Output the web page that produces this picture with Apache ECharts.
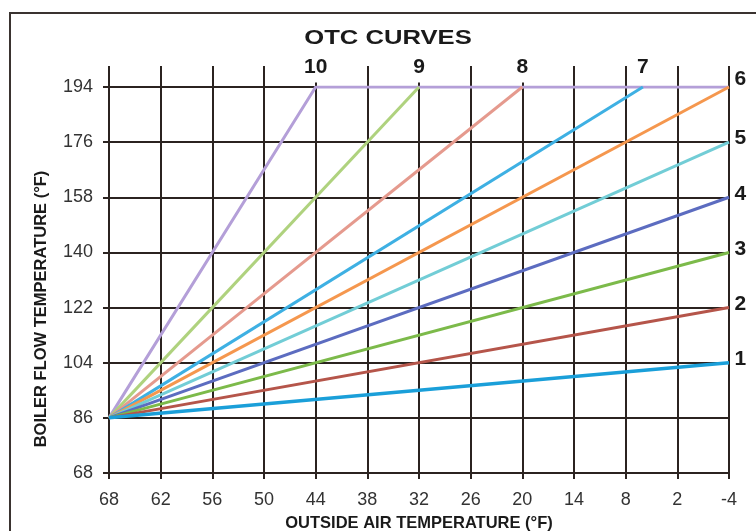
<!DOCTYPE html>
<html><head><meta charset="utf-8">
<script src="https://cdn.jsdelivr.net/npm/echarts@6/dist/echarts.min.js"></script>
<style>html,body{margin:0;padding:0;background:#fff}#c{width:756px;height:531px}</style>
</head><body><div id="c"></div>
<script>
// Data
const curveNames = ['1','2','3','4','5','6','7','8','9','10'];
const startX = 68, startY = 86;
const capX = [-4, -4, -4, -4, -4, -4, 6, 20, 32, 44];
const capY = [104, 122, 140, 158, 176, 194, 194, 194, 194, 194];
const flatToX = [null, null, null, null, null, null, null, null, null, -4];
const xTicks = [68, 62, 56, 50, 44, 38, 32, 26, 20, 14, 8, 2, -4];
const yTicks = [68, 86, 104, 122, 140, 158, 176, 194];
const colors = ['#1a9fd9','#b5554a','#7cba4a','#5c6cc0','#72cdd6','#f5974e','#3eb0e3','#e59a8e','#afd27e','#b49fd8'];

const FONT = 'Liberation Sans, Arial, sans-serif';
const DARK = '#2b2320';
const chart = echarts.init(document.getElementById('c'), null, {renderer:'canvas'});

const series = curveNames.map((n, i) => {
  const onTop = capY[i] === 194 && capX[i] !== -4;
  const pts = [[startX, startY], {
    value: [capX[i], capY[i]],
    label: onTop ? {show:true, formatter:n, position:'top', distance:4,
                    backgroundColor:'#fff', padding:[0,2,5,2]}
                 : {show:true, formatter:n, position:[6, capY[i] === 194 ? -7 : -3],
                    align:'left', verticalAlign:'middle'}
  }];
  if (flatToX[i] !== null) pts.push([flatToX[i], capY[i]]);
  return {
    type:'line', name:n, data:pts, symbol:'circle', symbolSize:1, showSymbol:true,
    itemStyle:{color:'rgba(0,0,0,0)', borderWidth:0},
    xAxisIndex:0, yAxisIndex:0,
    lineStyle:{color:colors[i], width: i===0?3.5:3},
    label:{show:false, fontFamily:FONT, fontWeight:'bold', fontSize:21, color:'#1a1a1a'},
    labelLayout:{hideOverlap:false},
    z: 12 - i,
    silent:true, animation:false
  };
});

chart.setOption({
  animation:false,
  graphic:[
    {type:'rect', shape:{x:10, y:13, width:800, height:600},
     style:{fill:'none', stroke:'#3a3330', lineWidth:2}, silent:true},
    {type:'text', x:388, y:38, scaleX:1.22, silent:true,
     style:{text:'OTC CURVES', fontFamily:FONT, fontWeight:'bold', fontSize:21,
            fill:'#1a1a1a', align:'center', verticalAlign:'middle'}},
    {type:'text', x:41, y:309, rotation:Math.PI/2, silent:true,
     style:{text:'BOILER FLOW TEMPERATURE (°F)', fontFamily:FONT, fontWeight:'bold', fontSize:16.5,
            fill:'#1a1a1a', align:'center', verticalAlign:'middle'}}
  ],
  grid:[{left:109, right:27, top:87, bottom:58, containLabel:false, outerBoundsMode:'none'}],
  xAxis:[{
    type:'value', gridIndex:0, min:-4, max:68, interval:6, inverse:true, position:'bottom',
    name:'OUTSIDE AIR TEMPERATURE (°F)', nameLocation:'middle', nameGap:42,
    nameTextStyle:{fontFamily:FONT, fontWeight:'bold', fontSize:16.5, color:'#1a1a1a'},
    axisLine:{show:true, onZero:false, lineStyle:{color:DARK, width:2}},
    axisTick:{show:true, length:6, lineStyle:{color:DARK, width:2}},
    axisLabel:{fontFamily:FONT, fontSize:18, color:'#333', margin:18},
    splitLine:{show:true, lineStyle:{color:DARK, width:2}}
  },{
    type:'value', gridIndex:0, min:-4, max:68, interval:6, inverse:true, position:'top',
    axisLine:{show:false, onZero:false},
    axisTick:{show:true, length:21, lineStyle:{color:DARK, width:2}},
    axisLabel:{show:false}, splitLine:{show:false}
  }],
  yAxis:[{
    type:'value', gridIndex:0, min:68, max:194, interval:18,
    axisLine:{show:true, onZero:false, lineStyle:{color:DARK, width:2}},
    axisTick:{show:true, length:6, lineStyle:{color:DARK, width:2}},
    axisLabel:{fontFamily:FONT, fontSize:18, color:'#333', margin:16},
    splitLine:{show:true, lineStyle:{color:DARK, width:2}}
  }],
  series: series
});
</script></body></html>
